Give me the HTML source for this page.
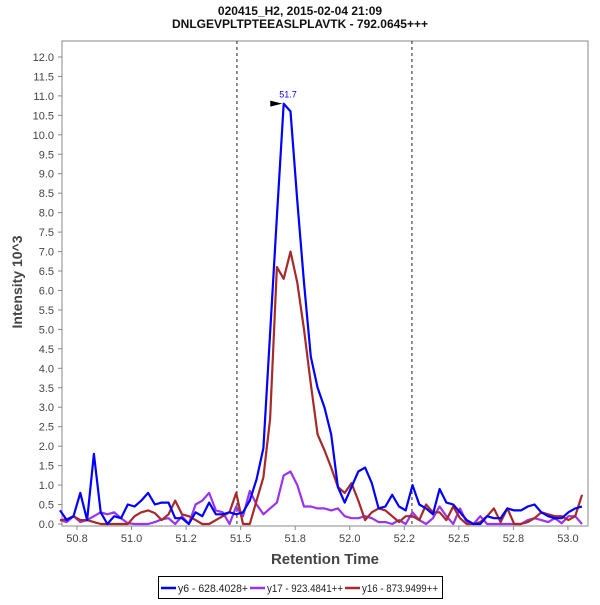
<!DOCTYPE html>
<html><head><meta charset="utf-8"><style>
body{margin:0;background:#fff;width:600px;height:600px;overflow:hidden;font-family:"Liberation Sans",sans-serif}
</style></head><body>
<svg id="chart" width="600" height="600" xmlns="http://www.w3.org/2000/svg" font-family="Liberation Sans, sans-serif">
<text x="300" y="15" text-anchor="middle" font-size="12" font-weight="bold" fill="#111">020415_H2, 2015-02-04 21:09</text>
<text x="300" y="28" text-anchor="middle" font-size="12" font-weight="bold" fill="#111">DNLGEVPLTPTEEASLPLAVTK - 792.0645+++</text>
<rect x="62" y="41" width="526" height="485" fill="#fff" stroke="#888" stroke-width="1"/>
<g id="grid"></g>
<g id="series"></g>
<text x="22" y="282" transform="rotate(-90 22 282)" text-anchor="middle" font-size="14" font-weight="bold" fill="#444">Intensity 10^3</text>
<text x="325" y="564" text-anchor="middle" font-size="15" font-weight="bold" fill="#444">Retention Time</text>
<g>
<rect x="158.5" y="576.5" width="284" height="22" fill="#fff" stroke="#000"/>
<line x1="161" y1="588" x2="176" y2="588" stroke="#0000ff" stroke-width="2.5"/>
<text x="178" y="592" font-size="11" fill="#222" textLength="70" lengthAdjust="spacingAndGlyphs">y6 - 628.4028+</text>
<line x1="250" y1="588" x2="265" y2="588" stroke="#9933ee" stroke-width="2.5"/>
<text x="267" y="592" font-size="11" fill="#222" textLength="76" lengthAdjust="spacingAndGlyphs">y17 - 923.4841++</text>
<line x1="345" y1="588" x2="360" y2="588" stroke="#a52a2a" stroke-width="2.5"/>
<text x="362" y="592" font-size="11" fill="#222" textLength="76" lengthAdjust="spacingAndGlyphs">y16 - 873.9499++</text>
</g>
</svg>
<script>
const t0 = 50.672, dt = 0.03107;
const y6 = [0.35,0.1,0.2,0.8,0.1,1.8,0.3,0.0,0.2,0.15,
0.5,0.45,0.6,0.8,0.5,0.55,0.55,0.15,0.15,0.0,
0.3,0.2,0.55,0.25,0.25,0.3,0.25,0.3,0.6,1.15,
1.95,4.9,7.9,10.8,10.6,8.3,6.2,4.3,3.5,3.0,
2.3,0.95,0.55,0.95,1.35,1.45,1.05,0.4,0.45,0.75,
0.45,0.35,1.0,0.5,0.4,0.25,0.9,0.55,0.5,0.3,
0.1,0.0,0.0,0.2,0.15,0.15,0.4,0.35,0.35,0.45,
0.5,0.3,0.2,0.15,0.15,0.3,0.4,0.45];
const y17 = [0.1,0.05,0.2,0.05,0.1,0.2,0.3,0.25,0.3,0.15,
0.02,0,0,0,0.05,0.12,0.15,0,0.2,0,
0.5,0.6,0.8,0.35,0.3,0,0.45,0.2,0.85,0.5,
0.25,0.4,0.55,1.25,1.35,1.0,0.45,0.45,0.4,0.4,
0.35,0.4,0.2,0.15,0.15,0.2,0.15,0.05,0.05,0,
0.1,0,0.3,0.1,0,0.15,0.45,0.2,0,0.4,
0.05,0,0.2,0,0,0,0,0,0,0.1,
0.15,0.1,0.05,0.15,0.02,0.2,0.2,0];
const y16 = [0.1,0.12,0.2,0.1,0.1,0.05,0,0,0,0,
0,0.2,0.3,0.35,0.28,0.1,0.25,0.6,0.25,0.2,
0.1,0,0,0.1,0.2,0.3,0.8,0,0,0.6,
1.2,2.7,6.6,6.3,7.0,6.2,5.0,3.6,2.3,1.9,
1.45,0.95,0.8,1.05,0.6,0.1,0.3,0.4,0.35,0.2,
0.05,0.2,0.2,0.1,0.5,0.3,0.3,0.1,0.45,0.15,
0,0,0.05,0.2,0.4,0.05,0.4,0,0,0.05,
0.15,0.3,0.25,0.2,0.2,0.1,0.2,0.75];
const xTicks = [50.75,51.0,51.25,51.5,51.75,52.0,52.25,52.5,52.75,53.0];
const xTickLabels = ["50.8","51.0","51.2","51.5","51.8","52.0","52.2","52.5","52.8","53.0"];
const yTicks = [0,0.5,1,1.5,2,2.5,3,3.5,4,4.5,5,5.5,6,6.5,7,7.5,8,8.5,9,9.5,10,10.5,11,11.5,12];
const markers = [51.483, 52.285];
const peakTime = 51.7, peakValue = 10.8, peakLabel = "51.7";

const NS = "http://www.w3.org/2000/svg";
const X = t => 77 + (t - 50.75) * 218.2;
const Y = v => 524 - v * 38.92;
const grid = document.getElementById('grid');
const ser = document.getElementById('series');
function mk(tag, attrs, parent){const e=document.createElementNS(NS,tag);for(const k in attrs)e.setAttribute(k,attrs[k]);parent.appendChild(e);return e;}

xTicks.forEach((t,i)=>{
  const l=mk('line',{x1:X(t),x2:X(t),y1:526,y2:530,stroke:'#888'},grid);
  
  
  const tx=mk('text',{x:X(t),y:542,'text-anchor':'middle','font-size':11,fill:'#444'},grid);
  tx.textContent=xTickLabels[i];
  
  
});
yTicks.forEach(v=>{
  const l=mk('line',{x1:58,x2:62,y1:Y(v),y2:Y(v),stroke:'#888'},grid);
  
  
  const tx=mk('text',{x:54,y:Y(v)+4,'text-anchor':'end','font-size':11,fill:'#444'},grid);
  tx.textContent=v.toFixed(1);
  
  
});
markers.forEach(t=>{
  const l=mk('line',{x1:X(t),x2:X(t),y1:41,y2:526,stroke:'#222','stroke-dasharray':'3,3'},grid);
  
  
});
function line(data,color,name){
  const pts=data.map((v,i)=>X(t0+i*dt).toFixed(1)+','+Y(v).toFixed(1)).join(' ');
  const p=mk('polyline',{points:pts,fill:'none',stroke:color,'stroke-width':2.2,'stroke-linejoin':'round'},ser);
  
  
}
line(y17,'#9933ee','series-y17');
line(y16,'#a52a2a','series-y16');
line(y6,'#0000ff','series-y6');
const px=X(peakTime), py=Y(peakValue);
const arrow=mk('polygon',{points:`${px-14},${py-3} ${px-2},${py} ${px-14},${py+3}`,fill:'#000'},ser);


const pl=mk('text',{x:px-5,y:py-6,'font-size':9,fill:'#0000ff'},ser);
pl.textContent=peakLabel;


</script>
</body></html>
